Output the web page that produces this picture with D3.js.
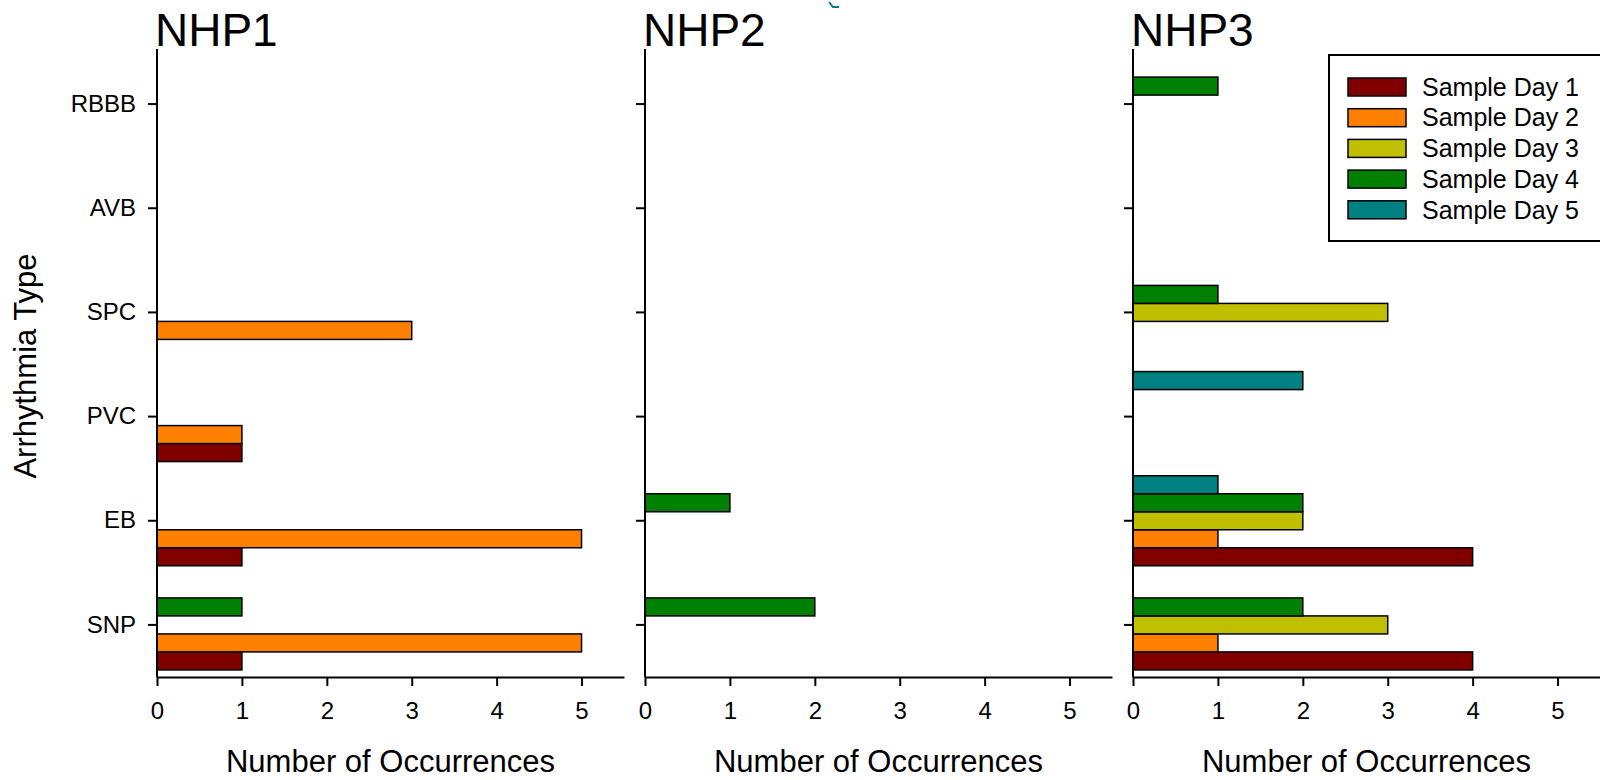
<!DOCTYPE html>
<html>
<head>
<meta charset="utf-8">
<script src="https://d3js.org/d3.v7.min.js"></script>
<style>
  body { margin: 0; background: #fff; }
  svg text { font-family: "Liberation Sans", Arial, sans-serif; fill: #000; }
</style>
</head>
<body>
<div id="chart"></div>
<script>
// categories bottom to top, series = sample days
var categories = ["SNP", "EB", "PVC", "SPC", "AVB", "RBBB"];
var days = ["Sample Day 1", "Sample Day 2", "Sample Day 3", "Sample Day 4", "Sample Day 5"];
var panelNames = ["NHP1", "NHP2", "NHP3"];
var xTicks = [0, 1, 2, 3, 4, 5];

// counts per category (rows, same order as categories), columns = day 1..5
var nhp1 = [
  [1, 5, 0, 1, 0],
  [1, 5, 0, 0, 0],
  [1, 1, 0, 0, 0],
  [0, 3, 0, 0, 0],
  [0, 0, 0, 0, 0],
  [0, 0, 0, 0, 0]
];
var nhp2 = [
  [0, 0, 0, 2, 0],
  [0, 0, 0, 1, 0],
  [0, 0, 0, 0, 0],
  [0, 0, 0, 0, 0],
  [0, 0, 0, 0, 0],
  [0, 0, 0, 0, 0]
];
var nhp3 = [
  [4, 1, 3, 2, 0],
  [4, 1, 2, 2, 1],
  [0, 0, 0, 0, 2],
  [0, 0, 3, 1, 0],
  [0, 0, 0, 0, 0],
  [0, 0, 0, 1, 0]
];
var panels = [nhp1, nhp2, nhp3];

var dayColors = ["#800000", "#ff8000", "#c0c000", "#008000", "#008080"];

var width = 1600, height = 780;
var panelLeft = [157, 645, 1133];
var panelW = 467;
var axisTop = 49, axisBottom = 677;
var barH = 18;

var svg = d3.select("#chart").append("svg")
    .attr("width", width)
    .attr("height", height);

var x = d3.scaleLinear().domain([0, 5.5]).range([0, panelW]);
var y = d3.scaleBand().domain(categories).range([axisBottom, 52]);
var inner = d3.scaleBand().domain(d3.range(days.length))
    .range([barH * 2.5, -barH * 2.5]);

var color = d3.scaleOrdinal().domain(d3.range(days.length)).range(dayColors);

panels.forEach(function(data, p) {
  var g = svg.append("g").attr("transform", "translate(" + panelLeft[p] + ",0)");

  // bars
  var rows = [];
  data.forEach(function(vals, ci) {
    vals.forEach(function(v, di) {
      if (v > 0) rows.push({cat: categories[ci], day: di, value: v});
    });
  });

  g.selectAll("rect.bar")
    .data(rows)
    .enter()
    .append("rect")
    .attr("class", "bar")
    .attr("x", x(0))
    .attr("y", function(d) { return y(d.cat) + y.bandwidth() / 2 + inner(d.day); })
    .attr("width", function(d) { return x(d.value) - x(0); })
    .attr("height", barH)
    .style("fill", function(d) { return color(d.day); })
    .style("stroke", "#000")
    .style("stroke-width", 1.5);

  // y axis
  var yAxis = g.append("g")
    .call(d3.axisLeft(y).tickSize(9).tickSizeOuter(0).tickPadding(12)
      .tickFormat(p === 0 ? null : ""));
  yAxis.select(".domain").remove();
  yAxis.selectAll(".tick line").style("stroke", "#000").style("stroke-width", 2);
  yAxis.selectAll("text").style("font-size", "24px")
    .attr("font-family", null);
  g.append("line")
    .attr("x1", 0).attr("x2", 0)
    .attr("y1", axisTop).attr("y2", axisBottom)
    .style("stroke", "#000").style("stroke-width", 2);

  // x axis
  var xAxis = g.append("g")
    .attr("transform", "translate(0," + axisBottom + ")")
    .call(d3.axisBottom(x).tickValues(xTicks).tickSize(9).tickSizeOuter(0)
      .tickPadding(16).tickFormat(d3.format("d")));
  xAxis.select(".domain").style("stroke", "#000").style("stroke-width", 2);
  xAxis.selectAll(".tick line").style("stroke", "#000").style("stroke-width", 2);
  xAxis.selectAll("text").style("font-size", "24px").attr("font-family", null);

  // axis title
  g.append("text")
    .attr("x", panelW / 2)
    .attr("y", 772)
    .attr("text-anchor", "middle")
    .style("font-size", "31px")
    .text("Number of Occurrences");

  // panel title
  g.append("text")
    .attr("x", -2)
    .attr("y", 46)
    .style("font-size", "46px")
    .text(panelNames[p]);
});

// y axis title
svg.append("text")
  .attr("transform", "translate(36,366) rotate(-90)")
  .attr("text-anchor", "middle")
  .style("font-size", "31px")
  .text("Arrhythmia Type");

// small stray mark at the top
svg.append("path")
  .attr("d", "M829,2 L833,7 L839,7")
  .style("fill", "none")
  .style("stroke", "#008080")
  .style("stroke-width", 2);

// legend
var legend = svg.append("g").attr("transform", "translate(1329,55)");
legend.append("rect")
  .attr("width", 290)
  .attr("height", 186)
  .style("fill", "#fff")
  .style("stroke", "#000")
  .style("stroke-width", 2);

var item = legend.selectAll("g.item")
  .data(days)
  .enter()
  .append("g")
  .attr("class", "item")
  .attr("transform", function(d, i) { return "translate(19," + (23 + i * 30.7) + ")"; });

item.append("rect")
  .attr("width", 58)
  .attr("height", 18)
  .style("fill", function(d, i) { return color(i); })
  .style("stroke", "#000")
  .style("stroke-width", 1.5);

item.append("text")
  .attr("x", 74)
  .attr("y", 9)
  .attr("dy", ".35em")
  .style("font-size", "25px")
  .text(function(d) { return d; });
</script>
</body>
</html>
